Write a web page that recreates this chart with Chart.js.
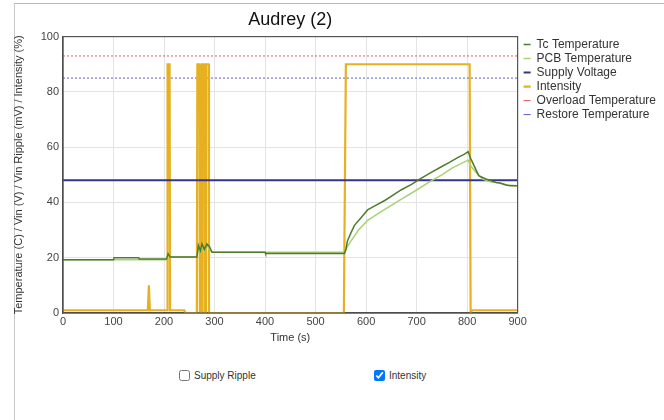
<!DOCTYPE html>
<html>
<head>
<meta charset="utf-8">
<script src="https://cdn.jsdelivr.net/npm/chart.js@4/dist/chart.umd.min.js"></script>
<style>
  html, body { margin: 0; padding: 0; background: #fff; width: 664px; height: 420px; overflow: hidden; }
  #frame { position: absolute; left: 14px; top: 3px; width: 660px; height: 430px; border-left: 1px solid #c8c8c8; border-top: 1px solid #b8b8b8; }
  #wrap { position: absolute; left: 0; top: 0; width: 664px; height: 350px; }
  .cb { position: absolute; top: 370px; font: 10px "Liberation Sans", Arial, sans-serif; color: #333; display: flex; align-items: center; }
  .cb input { margin: 0 4px 0 0; width: 11px; height: 11px; }
</style>
</head>
<body>
<div id="frame"></div>
<div id="wrap"><canvas id="c" width="664" height="350"></canvas></div>
<label class="cb" style="left:179px"><input type="checkbox">Supply Ripple</label>
<label class="cb" style="left:374px"><input type="checkbox" checked>Intensity</label>
<script>
// ---- data ----
const seriesNames = ["Tc Temperature", "PCB Temperature", "Supply Voltage", "Intensity", "Overload Temperature", "Restore Temperature"];
const xTicks = [0, 100, 200, 300, 400, 500, 600, 700, 800, 900];
const yTicks = [0, 20, 40, 60, 80, 100];

const tcTime = [0, 100, 101, 150, 151, 205, 208, 212, 215, 265, 268, 272, 275, 280, 285, 290, 295, 400, 401, 555, 557, 560, 563, 570, 577, 590, 603, 620, 637, 655, 670, 690, 707, 730, 750, 765, 783, 795, 802, 807, 813, 823, 837, 845, 857, 865, 877, 885, 900];
const tcValues = [19.3, 19.3, 20, 20, 19.5, 19.5, 21.5, 20.3, 20.3, 20.3, 24.5, 22.5, 25, 23, 25, 24, 22, 22, 21.5, 21.5, 21.5, 23, 26, 29, 31.7, 34.5, 37.3, 39, 40.7, 42.8, 44.6, 46.5, 48.5, 51, 53, 54.5, 56.4, 57.5, 58.4, 56, 53.6, 49.7, 48.5, 48, 47.2, 47, 46.3, 46, 46];

const pcbTime = [0, 205, 208, 212, 215, 265, 268, 272, 275, 280, 285, 290, 295, 555, 557, 563, 570, 585, 603, 637, 670, 700, 727, 750, 770, 790, 802, 808, 817, 830, 845, 860, 880, 900];
const pcbValues = [19.3, 19.3, 21, 20.3, 20.3, 20.3, 23.5, 22, 24.5, 22.5, 24.5, 23, 22, 22, 21.5, 24, 26, 30, 33.5, 37.5, 41.2, 44.5, 47.6, 50, 52.4, 54.2, 55.3, 53, 51, 48.5, 47.5, 47.2, 46.3, 46];

const supplyTime = [0, 900];
const supplyValues = [48, 48];

const intensityTime = [0, 168, 170, 172, 206, 207, 211, 212, 240, 242, 265, 266, 270, 271, 274, 275, 279, 280, 282, 283, 288, 289, 556, 560, 805, 807, 810, 900];
const intensityValues = [1, 1, 10, 1, 1, 90, 90, 1, 1, 0, 0, 90, 90, 0, 0, 90, 90, 0, 0, 90, 90, 0, 0, 90, 90, 0, 1, 1];

const overloadTime = [0, 900];
const overloadValues = [93, 93];
const restoreTime = [0, 900];
const restoreValues = [85, 85];

function pts(t, v) { return t.map((x, i) => ({ x: x, y: v[i] })); }

const frameBox = {
  id: 'frameBox',
  afterLayout(chart) {
    const lg = chart.legend;
    if (lg) { lg.left += 4; lg.right += 4; }
  },
  afterDraw(chart) {
    const a = chart.chartArea, ctx = chart.ctx;
    ctx.save();
    ctx.strokeStyle = '#555';
    ctx.lineWidth = 1.2;
    ctx.strokeRect(a.left, a.top, a.right - a.left, a.bottom - a.top);
    ctx.restore();
  }
};

new Chart(document.getElementById('c'), {
  type: 'line',
  data: {
    datasets: [
      { label: seriesNames[0], data: pts(tcTime, tcValues), borderColor: '#4f7b2c', backgroundColor: '#4f7b2c', borderWidth: 1.5, pointRadius: 0, tension: 0 },
      { label: seriesNames[1], data: pts(pcbTime, pcbValues), borderColor: '#a8d274', backgroundColor: '#a8d274', borderWidth: 1.5, pointRadius: 0, tension: 0 },
      { label: seriesNames[2], data: pts(supplyTime, supplyValues), borderColor: '#34348a', backgroundColor: '#34348a', borderWidth: 2, pointRadius: 0 },
      { label: seriesNames[3], data: pts(intensityTime, intensityValues), borderColor: '#e6b020', backgroundColor: '#e6b020', borderWidth: 2.2, pointRadius: 0, tension: 0 },
      { label: seriesNames[4], data: pts(overloadTime, overloadValues), borderColor: '#e05a5a', backgroundColor: '#e05a5a', borderWidth: 1, borderDash: [2, 2], pointRadius: 0 },
      { label: seriesNames[5], data: pts(restoreTime, restoreValues), borderColor: '#5a5ad0', backgroundColor: '#5a5ad0', borderWidth: 1, borderDash: [2, 2], pointRadius: 0 }
    ]
  },
  options: {
    responsive: false,
    animation: false,
    layout: { padding: { top: 2, left: 8, right: 2, bottom: 3 } },
    font: { family: '"Liberation Sans", Arial, sans-serif' },
    plugins: {
      title: {
        display: true, text: 'Audrey (2)', fullSize: false,
        color: '#111', font: { size: 18, weight: 'normal', family: '"Liberation Sans", Arial, sans-serif' },
        padding: { top: 7, bottom: 6 }
      },
      legend: {
        position: 'right', align: 'start', fullSize: false,
        labels: {
          usePointStyle: true, pointStyle: 'line', boxWidth: 7, pointStyleWidth: 7, padding: 2,
          color: '#333', font: { size: 12, family: '"Liberation Sans", Arial, sans-serif' }
        }
      },
      tooltip: { enabled: false }
    },
    scales: {
      x: {
        type: 'linear', min: 0, max: 900,
        afterBuildTicks(s) { s.ticks = xTicks.map(v => ({ value: v })); },
        afterFit(s) { s.height = 34; },
        ticks: { color: '#444', font: { size: 11 }, padding: 2, maxRotation: 0 },
        grid: { color: '#e4e4e4', drawTicks: false },
        border: { color: '#444', width: 1.2 },
        title: { display: true, text: 'Time (s)', color: '#333', font: { size: 11 }, padding: { top: 0, bottom: 2 } }
      },
      y: {
        min: 0, max: 100,
        afterBuildTicks(s) { s.ticks = yTicks.map(v => ({ value: v })); },
        afterFit(s) { s.width = 55; },
        ticks: { color: '#444', font: { size: 11 }, padding: 4 },
        grid: { color: '#e4e4e4', drawTicks: false },
        border: { color: '#444', width: 1.2 },
        title: { display: true, text: 'Temperature (C) / Vin (V) / Vin Ripple (mV) / Intensity (%)', color: '#333', font: { size: 11 }, padding: { top: 4, bottom: 2 } }
      }
    }
  },
  plugins: [frameBox]
});
</script>
</body>
</html>
